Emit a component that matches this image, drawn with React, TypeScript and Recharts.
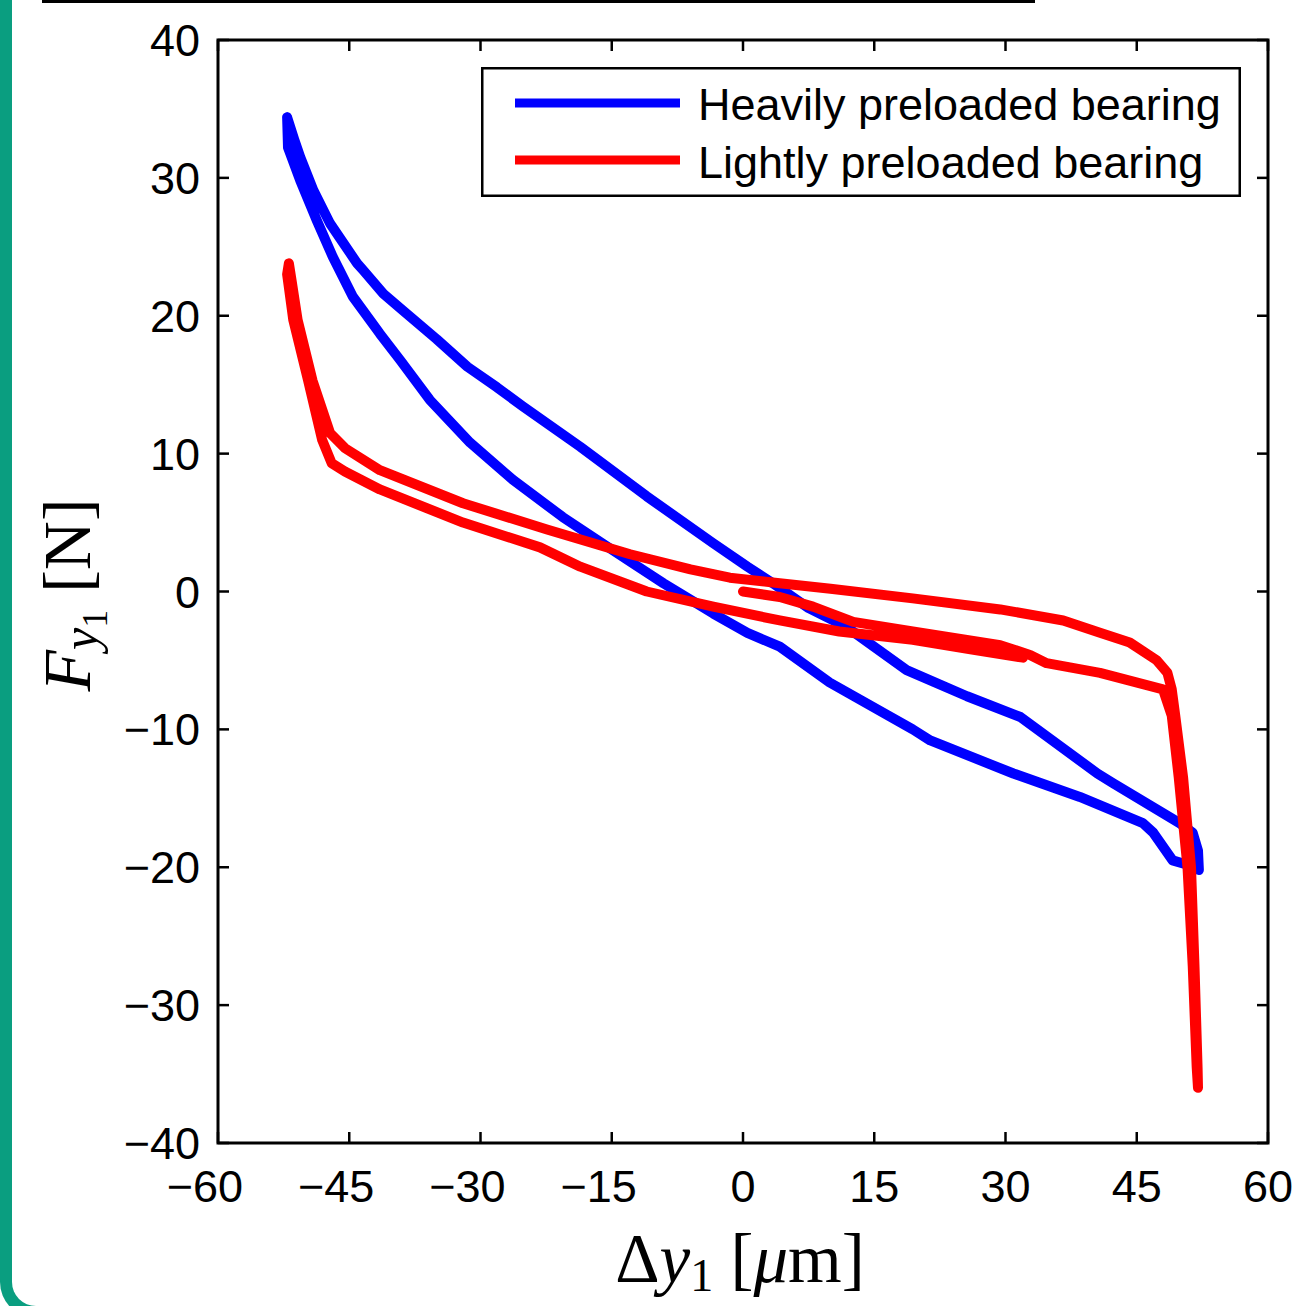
import React from 'react';
import { LineChart, Line, XAxis, YAxis, ReferenceArea, Legend, Label } from 'recharts';

// ---------- data ----------
const xTicks = [-60, -45, -30, -15, 0, 15, 30, 45, 60];
const yTicks = [-40, -30, -20, -10, 0, 10, 20, 30, 40];

const seriesNames = ['Heavily preloaded bearing', 'Lightly preloaded bearing'];
const seriesColors = ['#0000ff', '#ff0000'];

const heavyDisp = [
  -52.1, -51.3, -50.6, -49.1, -47.2, -44.1, -43.4, -41.1, -38.9, -35.0, -31.5, -28.1, -25.1, -18.6, -11.0, -3.4,
  0.5, 3.4, 7.5, 11.9, 18.7, 25.6, 31.7, 34.7, 40.5, 42.3, 49.9, 51.4, 52.0, 52.1,
  50.7, 49.1, 46.9, 45.7, 38.5, 30.9, 21.4, 19.4, 9.9, 4.2, 0.5, -3.4, -9.1, -14.9, -20.6, -26.3, -31.2, -35.8,
  -39.2, -41.5, -44.6, -46.9, -48.7, -50.6, -52.0, -52.1,
];
const heavyForce = [
  34.4, 32.8, 31.5, 29.1, 26.7, 23.8, 23.3, 21.6, 20.4, 18.3, 16.3, 14.8, 13.4, 10.5, 6.9, 3.5,
  1.8, 0.6, -1.2, -2.6, -5.7, -7.6, -9.1, -10.5, -13.2, -13.9, -16.8, -17.5, -18.8, -20.2,
  -19.8, -19.5, -17.5, -16.8, -14.9, -13.2, -10.8, -10.0, -6.6, -4.0, -3.0, -1.6, 0.6, 3.0, 5.4, 8.1, 10.8, 13.9,
  16.8, 18.7, 21.4, 24.3, 26.9, 29.8, 32.2, 34.4,
];

const lightDisp = [
  0, 4.2, 8.0, 12.6, 19.4, 29.4, 32.8,
  34.7, 40.8, 48.0,
  49.0, 49.8, 50.8, 51.4, 51.85, 52.0,
  51.95, 51.6, 51.2, 50.3, 49.4, 49.0,
  48.5, 47.3, 44.2, 40.8, 36.6, 29.4, 19.4, 10.0, 4.2, -1.5, -6.0, -12.9, -22.4, -32.0, -41.5, -45.5, -47.2,
  -49.2, -50.9, -51.6, -51.9,
  -52.1, -51.4, -49.7, -48.1, -47.0,
  -45.5, -41.5, -32.0, -23.2, -18.6, -11.0, -3.4, 4.2, 11.0, 19.4, 26.0, 32.0,
];
const lightForce = [
  0, -0.4, -1.1, -2.2, -2.9, -3.9, -4.6,
  -5.2, -5.9, -7.1,
  -9.0, -13.5, -20.0, -27.2, -34.5, -36.0,
  -34.5, -27.2, -20.0, -13.5, -9.0, -7.1,
  -5.9, -5.0, -3.7, -3.0, -2.1, -1.3, -0.5, 0.2, 0.6, 1.0, 1.6, 2.7, 4.5, 6.4, 8.8, 10.4, 11.5,
  15.3, 19.7, 22.6, 23.8,
  23.0, 19.7, 15.3, 11.0, 9.3,
  8.7, 7.4, 5.0, 3.2, 1.8, 0.0, -1.1, -2.1, -2.9, -3.5, -4.2, -4.8,
];

const heavyData = heavyDisp.map((d, i) => ({ d, f: heavyForce[i] }));
const lightData = lightDisp.map((d, i) => ({ d, f: lightForce[i] }));

// ---------- layout ----------
const W = 1294;
const H = 1306;
const PL = 218;
const PR = 1268;
const PT = 40;
const PB = 1143;
const TICK = 11;
const SANS = '"Liberation Sans", Arial, Helvetica, sans-serif';
const SERIF = '"Liberation Serif", "Times New Roman", serif';
const FS = 45;

const fmt = (v: number) => (v < 0 ? '\u2212' + Math.abs(v) : String(v));

const XTick = (props: any) => {
  const { x, payload } = props;
  const v = payload.value as number;
  const shift = v < 0 ? -0.292 * FS : 0;
  return (
    <g>
      <line x1={x} x2={x} y1={PB} y2={PB - TICK} stroke="#000" strokeWidth={2.5} />
      <line x1={x} x2={x} y1={PT} y2={PT + TICK} stroke="#000" strokeWidth={2.5} />
      <text x={x + shift} y={1202} textAnchor="middle" fontFamily={SANS} fontSize={FS} fill="#000">
        {fmt(v)}
      </text>
    </g>
  );
};

const YTick = (props: any) => {
  const { y, payload } = props;
  const v = payload.value as number;
  return (
    <g>
      <line x1={PL} x2={PL + TICK} y1={y} y2={y} stroke="#000" strokeWidth={2.5} />
      <line x1={PR - TICK} x2={PR} y1={y} y2={y} stroke="#000" strokeWidth={2.5} />
      <text x={200} y={y + 16} textAnchor="end" fontFamily={SANS} fontSize={FS} fill="#000">
        {fmt(v)}
      </text>
    </g>
  );
};

const XTitle = () => (
  <text x={740} y={1282} textAnchor="middle" fontFamily={SERIF} fontSize={69} fill="#000">
    <tspan>Δ</tspan>
    <tspan fontStyle="italic">y</tspan>
    <tspan fontSize={46} dy={9}>1</tspan>
    <tspan dy={-9}> [</tspan>
    <tspan fontStyle="italic">μ</tspan>
    <tspan>m]</tspan>
  </text>
);

const YTitle = () => (
  <text transform="translate(90,595) rotate(-90)" textAnchor="middle" fontFamily={SERIF} fontSize={68} fill="#000">
    <tspan fontStyle="italic">F</tspan>
    <tspan fontStyle="italic" fontSize={50} dy={7}>y</tspan>
    <tspan fontSize={36} dy={10}>1</tspan>
    <tspan dy={-17}> [N]</tspan>
  </text>
);

const LegendBox = (props: any) => {
  const payload = props.payload && props.payload.length ? props.payload : seriesNames.map((n, i) => ({ value: n, color: seriesColors[i] }));
  return (
    <svg width={760} height={130} style={{ display: 'block' }}>
      <rect x={1.25} y={1.25} width={757.5} height={127.5} fill="#fff" stroke="#000" strokeWidth={2.5} />
      {payload.map((p: any, i: number) => (
        <g key={p.value}>
          <line x1={34} x2={199} y1={36 + 57 * i} y2={36 + 57 * i} stroke={p.color} strokeWidth={9} />
          <text x={217} y={53 + 58 * i} fontFamily={SANS} fontSize={FS} fill="#000">
            {p.value}
          </text>
        </g>
      ))}
    </svg>
  );
};

export default function App() {
  return (
    <div style={{ position: 'absolute', left: 0, top: 0, width: W, height: H, background: '#fff', overflow: 'hidden' }}>
      <div
        style={{
          position: 'absolute',
          left: 0,
          top: -100,
          width: 1500,
          height: 1418,
          borderLeft: '12px solid #0a9e80',
          borderBottom: '12px solid #0a9e80',
          borderBottomLeftRadius: 36,
          boxSizing: 'border-box',
        }}
      />
      <div style={{ position: 'absolute', left: 42, top: 0, width: 993, height: 3, background: '#000' }} />
      <LineChart width={W} height={H} margin={{ top: PT, right: W - PR, bottom: 0, left: 0 }}>
        <XAxis
          type="number"
          dataKey="d"
          domain={[-60, 60]}
          ticks={xTicks}
          interval={0}
          height={H - PB}
          tick={XTick}
          tickLine={false}
          axisLine={false}
          allowDataOverflow
        >
          <Label content={XTitle} />
        </XAxis>
        <YAxis
          type="number"
          domain={[-40, 40]}
          ticks={yTicks}
          interval={0}
          width={PL}
          tick={YTick}
          tickLine={false}
          axisLine={false}
          allowDataOverflow
        >
          <Label content={YTitle} />
        </YAxis>
        <ReferenceArea x1={-60} x2={60} y1={-40} y2={40} fill="none" fillOpacity={0} stroke="#000" strokeWidth={3} ifOverflow="visible" />
        <Line
          data={heavyData}
          dataKey="f"
          name={seriesNames[0]}
          type="linear"
          stroke={seriesColors[0]}
          strokeWidth={10}
          strokeLinejoin="round"
          strokeLinecap="round"
          dot={false}
          activeDot={false}
          isAnimationActive={false}
        />
        <Line
          data={lightData}
          dataKey="f"
          name={seriesNames[1]}
          type="linear"
          stroke={seriesColors[1]}
          strokeWidth={10}
          strokeLinejoin="round"
          strokeLinecap="round"
          dot={false}
          activeDot={false}
          isAnimationActive={false}
        />
        <Legend
          layout="vertical"
          align="center"
          verticalAlign="middle"
          content={LegendBox}
          wrapperStyle={{ left: 481, top: 67, width: 760, height: 130 }}
        />
      </LineChart>
    </div>
  );
}
